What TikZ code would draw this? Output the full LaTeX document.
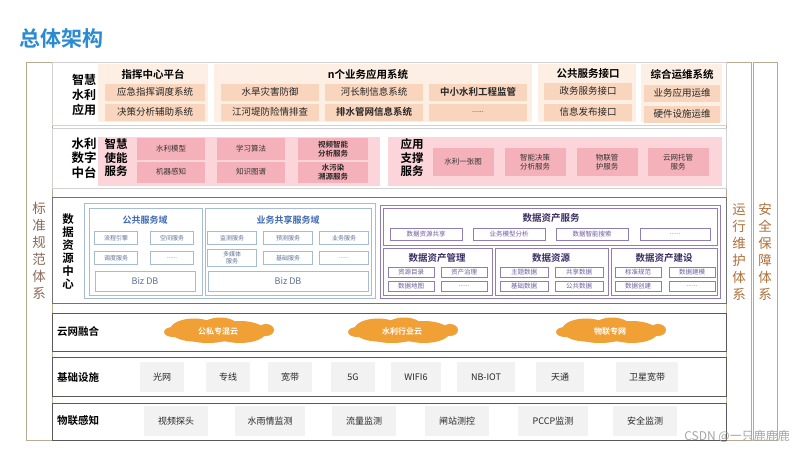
\documentclass[tikz,border=0pt]{standalone}
\usepackage{fontspec}
\setmainfont{Noto Sans CJK SC}[BoldFont={Noto Sans CJK SC Bold}]
\definecolor{ttlblue}{HTML}{2A8BD2}
\definecolor{gbg}{HTML}{FDEFE3}
\definecolor{gsub}{HTML}{F9D5BD}
\definecolor{pbg}{HTML}{FBD5DA}
\definecolor{psub}{HTML}{F5B1B9}
\definecolor{bline}{HTML}{A8BBD5}
\definecolor{btxt}{HTML}{5C6F94}
\definecolor{bttl}{HTML}{3C69B2}
\definecolor{pline}{HTML}{8E7DB9}
\definecolor{ptxt}{HTML}{6D5E9E}
\definecolor{pttl}{HTML}{3A2E63}
\definecolor{cloudc}{HTML}{F0A035}
\definecolor{frame}{HTML}{BBAA92}
\definecolor{lft}{HTML}{8A6A5A}
\definecolor{rgt}{HTML}{B0703A}
\definecolor{grybox}{HTML}{F2F2F2}
\newcommand\bx[7]{\node[#1,minimum width=#5pt,minimum height=#6pt] (#2) at (#3,#4) {#7};}
\newcommand\blob[3]{%
  \begin{scope}[shift={(#1,#2)}]
    \fill[cloudc] (0,0) ellipse [x radius=46, y radius=10.5];
    \fill[cloudc] (-24,-1) ellipse [x radius=24, y radius=11.5];
    \fill[cloudc] (22,1) ellipse [x radius=26, y radius=11];
    \fill[cloudc] (2,-2) ellipse [x radius=20, y radius=11.5];
    \fill[cloudc] (-45,1) ellipse [x radius=9, y radius=5];
    \fill[cloudc] (48,-1) ellipse [x radius=8, y radius=6];
    \fill[cloudc] (-10,6) ellipse [x radius=22, y radius=6];
  \end{scope}%
  \node[cloudtxt] (#3) at (#1,#2) }
\tikzset{
  base/.style={inner sep=0pt,align=center},
  lbl/.style={base,font=\bfseries\fontsize{12}{15}\selectfont,text=black},
  ttl/.style={base,font=\bfseries\fontsize{10.5}{12}\selectfont,text=black},
  gsubbox/.style={base,fill=gsub,font=\fontsize{9.5}{11}\selectfont,text=black!85},
  psubbox/.style={base,fill=psub,font=\fontsize{7.5}{8.5}\selectfont,text=black!80},
  psubb/.style={base,fill=psub,font=\bfseries\fontsize{7.5}{8.5}\selectfont,text=black!85},
  bsub/.style={base,draw=bline,fill=white,font=\fontsize{6}{6.8}\selectfont,text=btxt},
  bdb/.style={base,draw=bline,fill=white,font=\fontsize{9}{10}\selectfont,text=btxt},
  bttlst/.style={base,font=\bfseries\fontsize{9}{10}\selectfont,text=bttl},
  psb/.style={base,draw=pline,fill=white,font=\fontsize{6.5}{7}\selectfont,text=ptxt},
  pttlst/.style={base,font=\bfseries\fontsize{9.5}{10}\selectfont,text=pttl},
  cloudtxt/.style={base,font=\bfseries\fontsize{8}{9}\selectfont,text=white},
  gitem/.style={base,fill=grybox,font=\fontsize{9}{10}\selectfont,text=black!85},
  rowlbl/.style={inner sep=0pt,anchor=west,font=\bfseries\fontsize{10.5}{12}\selectfont,text=black},
  vtxt/.style={base,font=\fontsize{13.5}{17}\selectfont}
}
\begin{document}
\begin{tikzpicture}[x=1pt,y=-1pt]
\useasboundingbox (0,0) rectangle (800,450);
\fill[white] (0,0) rectangle (800,450);
% title
\node[inner sep=0pt,anchor=west,font=\bfseries\fontsize{21}{24}\selectfont,text=ttlblue] (title) at (19,39) {总体架构};
% side frames
\draw[frame,fill=white] (26,62) rectangle (52,440);
\draw[frame,fill=white] (726,62) rectangle (751,440);
\draw[frame,fill=white] (753,62) rectangle (777,440);
\node[vtxt,text=lft] (std) at (39,251) {标\\准\\规\\范\\体\\系};
\node[vtxt,text=rgt] (ops) at (739,252) {运\\行\\维\\护\\体\\系};
\node[vtxt,text=rgt] (sec) at (765,252) {安\\全\\保\\障\\体\\系};
% ---------- row 1
\draw[draw=black!18,fill=white] (52,62) rectangle (726,125);
\fill[gbg] (98,64) rectangle (208,122);
\fill[gbg] (214,64) rectangle (532,122);
\fill[gbg] (538,64) rectangle (636,122);
\fill[gbg] (641,64) rectangle (722,122);
\node[lbl] (r1) at (84,95) {智慧\\水利\\应用};
\node[ttl] (t1) at (153,74) {指挥中心平台};
\node[ttl] (t2) at (368,74) {n个业务应用系统};
\node[ttl] (t3) at (588,74) {公共服务接口};
\node[ttl] (t4) at (682,75) {综合运维系统};
\bx{gsubbox}{a1}{155}{92}{100}{17}{应急指挥调度系统}
\bx{gsubbox}{a2}{155}{112}{100}{17}{决策分析辅助系统}
\bx{gsubbox}{b1}{270}{92}{98}{17}{水旱灾害防御}
\bx{gsubbox}{b2}{270}{112}{98}{17}{江河堤防险情排查}
\bx{gsubbox}{c1}{374}{92}{98}{17}{河长制信息系统}
\bx{gsubbox,font=\bfseries\fontsize{9.5}{11}\selectfont}{c2}{374}{112}{98}{17}{排水管网信息系统}
\bx{gsubbox,font=\bfseries\fontsize{9.5}{11}\selectfont}{d1}{478}{92}{98}{17}{中小水利工程监管}
\bx{gsubbox,font=\fontsize{7}{8}\selectfont}{d2}{478}{112}{98}{17}{......}
\bx{gsubbox}{e1}{588}{91}{88}{17}{政务服务接口}
\bx{gsubbox}{e2}{588}{112}{88}{17}{信息发布接口}
\bx{gsubbox}{f1}{682}{93}{76}{17}{业务应用运维}
\bx{gsubbox}{f2}{682}{114}{76}{17}{硬件设施运维}
% ---------- row 2
\draw[draw=black!18,fill=white] (52,128) rectangle (726,188);
\fill[pbg] (98,137) rectangle (380,186);
\fill[pbg] (388,137) rectangle (722,186);
\node[lbl,font=\bfseries\fontsize{12.5}{14.5}\selectfont] (r2) at (84,158) {水利\\数字\\中台};
\node[lbl,font=\bfseries\fontsize{11.5}{13.5}\selectfont] (s1) at (116,158) {智慧\\使能\\服务};
\node[lbl,font=\bfseries\fontsize{11.5}{13.5}\selectfont] (s2) at (412,158) {应用\\支撑\\服务};
\bx{psubbox}{m1}{171}{149}{68}{22}{水利模型}
\bx{psubbox}{m2}{171}{172}{68}{21}{机器感知}
\bx{psubbox}{m3}{251}{149}{68}{22}{学习算法}
\bx{psubbox}{m4}{251}{172}{68}{21}{知识图谱}
\bx{psubb}{m5}{333}{149}{70}{22}{视频智能\\分析服务}
\bx{psubb}{m6}{333}{172}{70}{21}{水污染\\溯源服务}
\bx{psubbox}{n1}{463}{162}{61}{28}{水利一张图}
\bx{psubbox}{n2}{535}{162}{61}{28}{智能决策\\分析服务}
\bx{psubbox}{n3}{607}{162}{61}{28}{物联管\\护服务}
\bx{psubbox}{n4}{678}{162}{61}{28}{云网托管\\服务}
% ---------- row 3
\draw[draw=black!55,fill=white] (52,197) rectangle (726,303);
\node[lbl,font=\bfseries\fontsize{11.5}{13}\selectfont] (r3) at (68,252) {数\\据\\资\\源\\中\\心};
\draw[bline] (84,203) rectangle (375,298);
\draw[bline] (89,208) rectangle (202,295);
\draw[bline] (205,208) rectangle (371,295);
\node[bttlst] (dom1) at (145,220) {公共服务域};
\node[bttlst] (dom2) at (288,220) {业务共享服务域};
\bx{bsub}{p1}{116}{238}{43}{13}{流程引擎}
\bx{bsub}{p2}{172}{238}{43}{13}{空间服务}
\bx{bsub}{p3}{116}{258}{43}{13}{调度服务}
\bx{bsub}{p4}{172}{258}{43}{13}{......}
\bx{bdb}{p5}{145}{281}{100}{20}{Biz DB}
\bx{bsub}{q1}{232}{238}{49}{13}{监测服务}
\bx{bsub}{q2}{288}{238}{49}{13}{预测服务}
\bx{bsub}{q3}{344}{238}{49}{13}{业务服务}
\bx{bsub}{q4}{232}{258}{49}{17}{多媒体\\服务}
\bx{bsub}{q5}{288}{258}{49}{13}{基础服务}
\bx{bsub}{q6}{344}{258}{49}{13}{......}
\bx{bdb}{q7}{288}{281}{160}{20}{Biz DB}
\draw[pline] (380,205) rectangle (720,298);
\draw[pline] (383,208) rectangle (717,245);
\draw[pline] (383,248) rectangle (492,295);
\draw[pline] (495,248) rectangle (608,295);
\draw[pline] (611,248) rectangle (717,295);
\node[pttlst] (das) at (551,218) {数据资产服务};
\bx{psb}{u1}{426}{234}{72}{12}{数据资源共享}
\bx{psb}{u2}{509}{234}{72}{12}{业务模型分析}
\bx{psb}{u3}{592}{234}{72}{12}{数据智能搜索}
\bx{psb}{u4}{675}{234}{70}{12}{......}
\node[pttlst] (dam) at (437,258) {数据资产管理};
\node[pttlst] (dr) at (551,258) {数据资源};
\node[pttlst] (dab) at (664,258) {数据资产建设};
\bx{psb}{v1}{411}{272}{46}{10}{资源目录}
\bx{psb}{v2}{464}{272}{46}{10}{资产治理}
\bx{psb}{v3}{411}{286}{46}{10}{数据地图}
\bx{psb}{v4}{464}{286}{46}{10}{......}
\bx{psb}{w1}{524}{272}{48}{10}{主题数据}
\bx{psb}{w2}{579}{272}{48}{10}{共享数据}
\bx{psb}{w3}{524}{286}{48}{10}{基础数据}
\bx{psb}{w4}{579}{286}{48}{10}{公共数据}
\bx{psb}{x1}{638}{272}{46}{10}{标准规范}
\bx{psb}{x2}{692}{272}{46}{10}{数据建模}
\bx{psb}{x3}{638}{286}{46}{10}{数据创建}
\bx{psb}{x4}{692}{286}{46}{10}{......}
% ---------- row 4
\draw[draw=black!65,fill=white] (52,313) rectangle (726,351);
\node[rowlbl] (r4) at (57,332) {云网融合};
\blob{218}{331}{k1}{公私专混云};
\blob{402}{331}{k2}{水利行业云};
\blob{610}{331}{k3}{物联专网};
% ---------- row 5
\draw[draw=black!65,fill=white] (52,357) rectangle (726,396);
\node[rowlbl] (r5) at (57,377) {基础设施};
\bx{gitem}{i1}{162}{377}{44}{30}{光网}
\bx{gitem}{i2}{228}{377}{44}{30}{专线}
\bx{gitem}{i3}{290}{377}{44}{30}{宽带}
\bx{gitem}{i4}{353}{377}{44}{30}{5G}
\bx{gitem}{i5}{416}{377}{50}{30}{WIFI6}
\bx{gitem}{i6}{486}{377}{58}{30}{NB-IOT}
\bx{gitem}{i7}{560}{377}{48}{30}{天通}
\bx{gitem}{i8}{647}{377}{62}{30}{卫星宽带}
% ---------- row 6
\draw[draw=black!65,fill=white] (52,403) rectangle (726,440);
\node[rowlbl] (r6) at (57,421) {物联感知};
\bx{gitem}{j1}{176}{421}{64}{30}{视频探头}
\bx{gitem}{j2}{270}{421}{70}{30}{水雨情监测}
\bx{gitem}{j3}{364}{421}{64}{30}{流量监测}
\bx{gitem}{j4}{457}{421}{64}{30}{闸站测控}
\bx{gitem}{j5}{553}{421}{70}{30}{PCCP监测}
\bx{gitem}{j6}{645}{421}{64}{30}{安全监测}
% watermark
\node[inner sep=0pt,anchor=east,font=\fontsize{12}{13}\selectfont,text=black!35] (wm) at (790,436) {CSDN @一只鹿鹿鹿};
\end{tikzpicture}
\end{document}
